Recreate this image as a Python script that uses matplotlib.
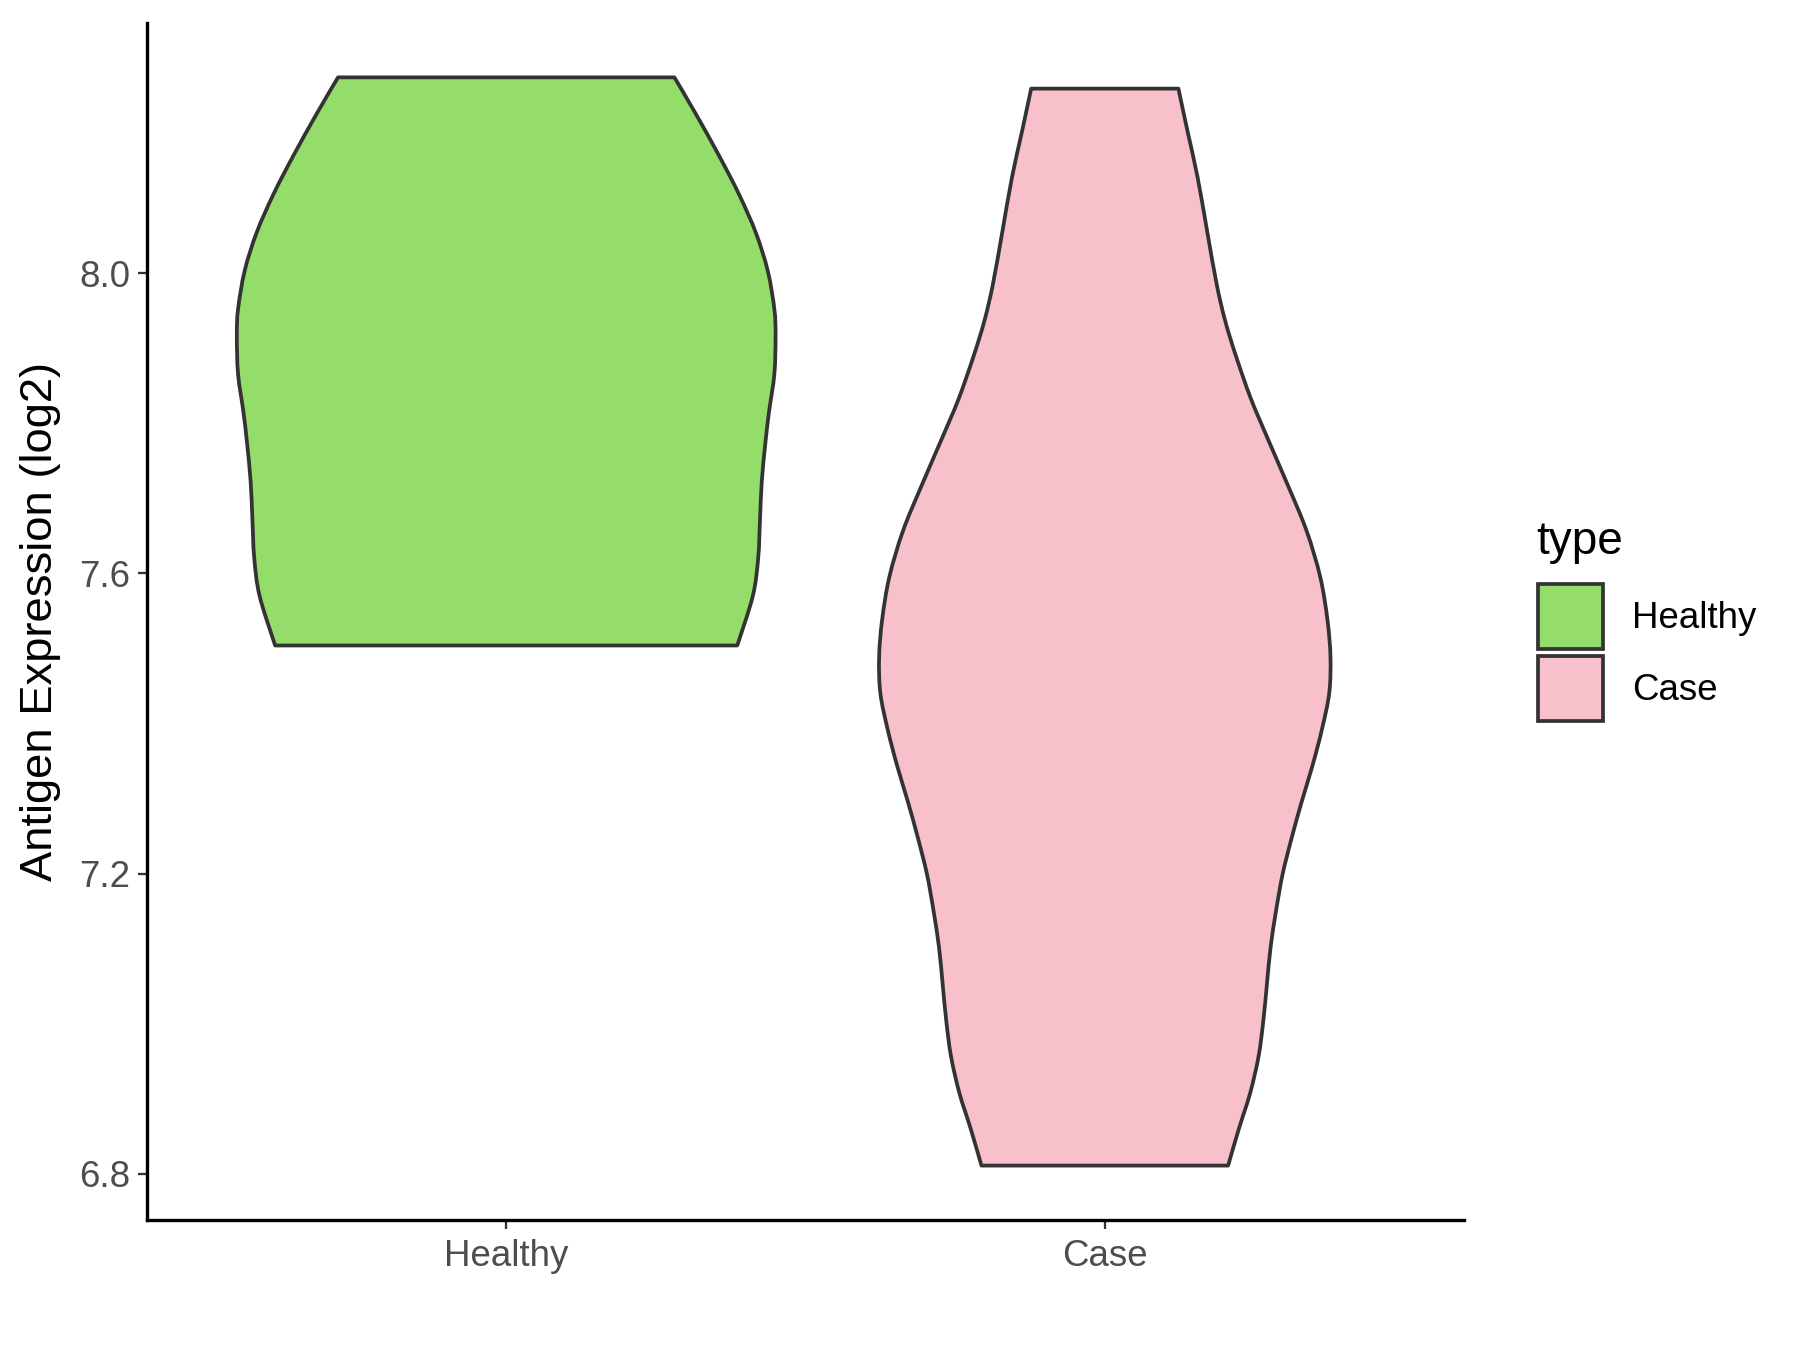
import numpy as np
import matplotlib
matplotlib.use('Agg')
import matplotlib.pyplot as plt
from matplotlib.patches import Patch, PathPatch
from matplotlib.path import Path

plt.rcParams['font.family'] = ['Liberation Sans', 'DejaVu Sans']

# groups on the x axis
groups = ['Healthy', 'Case']
colors = ['#95DD6B', '#F7C0CB']

# violin outlines: y value and half width (x units)
healthy_y = [8.261, 8.212, 8.156, 8.105, 8.054, 8.003, 7.952, 7.917, 7.866,
             7.815, 7.774, 7.723, 7.672, 7.621, 7.570, 7.504]
healthy_w = [0.281, 0.317, 0.356, 0.389, 0.417, 0.437, 0.448, 0.450, 0.448,
             0.439, 0.433, 0.427, 0.424, 0.421, 0.412, 0.386]

case_y = [8.246, 8.190, 8.128, 8.056, 7.985, 7.937, 7.890, 7.833, 7.780,
          7.719, 7.657, 7.595, 7.538, 7.489, 7.441, 7.393, 7.344, 7.296,
          7.247, 7.199, 7.150, 7.102, 7.054, 7.005, 6.957, 6.908, 6.860, 6.811]
case_w = [0.123, 0.138, 0.155, 0.171, 0.187, 0.201, 0.219, 0.244, 0.272,
          0.305, 0.337, 0.360, 0.372, 0.377, 0.375, 0.363, 0.347, 0.329,
          0.312, 0.297, 0.286, 0.277, 0.271, 0.265, 0.257, 0.243, 0.224, 0.206]

y_ticks = [6.8, 7.2, 7.6, 8.0]


def smooth_side(pts):
    # bezier control points (catmull-rom) through the outline points
    verts, codes = [], []
    n = len(pts)
    for i in range(n - 1):
        p0 = pts[max(i - 1, 0)]
        p1 = pts[i]
        p2 = pts[i + 1]
        p3 = pts[min(i + 2, n - 1)]
        c1 = p1 + (p2 - p0) / 6.0
        c2 = p2 - (p3 - p1) / 6.0
        verts += [c1, c2, p2]
        codes += [Path.CURVE4] * 3
    return verts, codes


def violin_path(pos, ys, ws):
    ys = np.array(ys)
    ws = np.array(ws)
    left = np.column_stack([pos - ws, ys])
    right = np.column_stack([pos + ws, ys])[::-1]
    verts = [left[0]]
    codes = [Path.MOVETO]
    v, c = smooth_side(left)
    verts += v
    codes += c
    verts.append(right[0])
    codes.append(Path.LINETO)
    v, c = smooth_side(right)
    verts += v
    codes += c
    verts.append(left[0])
    codes.append(Path.CLOSEPOLY)
    return Path(np.array(verts), codes)


fig = plt.figure(figsize=(12, 9), dpi=150)
ax = fig.add_axes([0.0817, 0.0963, 0.7316, 0.8867])

outline = '#333333'
for pos, ys, ws, col in zip([1, 2], [healthy_y, case_y], [healthy_w, case_w], colors):
    patch = PathPatch(violin_path(pos, ys, ws), facecolor=col, edgecolor=outline,
                      linewidth=1.8, joinstyle='round')
    ax.add_patch(patch)

ax.set_xlim(0.4, 2.6)
ax.set_ylim(6.7385, 8.3335)
ax.set_xticks([1, 2])
ax.set_xticklabels(groups)
ax.set_yticks(y_ticks)
ax.set_yticklabels(['%.1f' % v for v in y_ticks])

for s in ['top', 'right']:
    ax.spines[s].set_visible(False)
for s in ['left', 'bottom']:
    ax.spines[s].set_linewidth(1.6)
    ax.spines[s].set_color('black')

ax.tick_params(axis='both', length=4.5, width=1.1, color=outline,
               labelcolor='#4D4D4D', labelsize=17.6, pad=3.5)
ax.tick_params(axis='x', pad=4.5)
ax.set_ylabel('Antigen Expression (log2)', fontsize=21.8, color='black', labelpad=9)

# legend
fig.text(0.8533, 0.5893, 'type', fontsize=22, va='baseline', ha='left')
handles = [Patch(facecolor=c, edgecolor=outline, linewidth=1.8, label=g)
           for g, c in zip(groups, colors)]
fig.legend(handles=handles, loc='upper left', bbox_to_anchor=(0.8544, 0.5674),
           frameon=False, fontsize=17.6, handlelength=1.77, handleheight=2.35,
           handletextpad=0.8, labelspacing=0.19, borderpad=0, borderaxespad=0)

fig.savefig('out.png', dpi=150)
